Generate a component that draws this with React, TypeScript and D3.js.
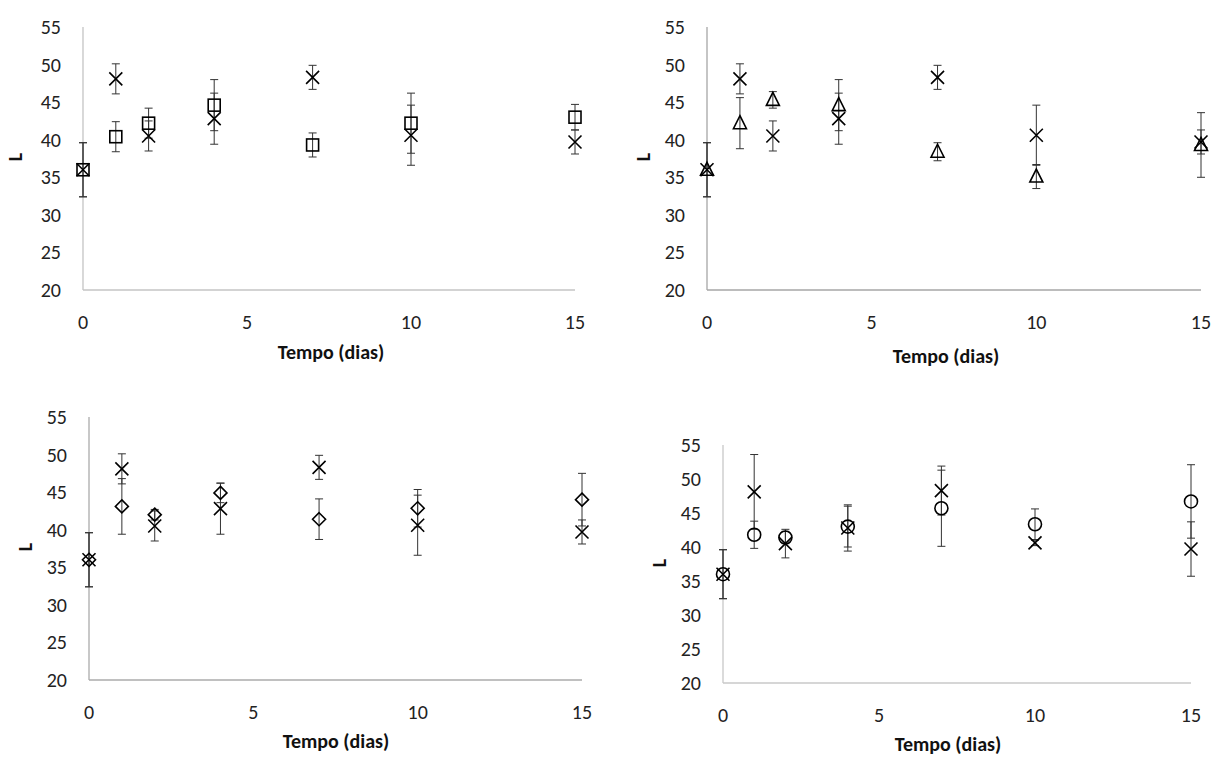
import React from 'react';
import * as d3 from 'd3';

// sampling days
const days = [0, 1, 2, 4, 7, 10, 15];

// control (x marker), same mean in every panel
const controlL = [36.0, 48.1, 40.5, 42.8, 48.3, 40.6, 39.7];
const controlSd = [3.6, 2.0, 2.0, 3.4, 1.6, 4.0, 1.6];
const controlSdD = [3.6, 5.5, 2.1, 3.4, 3.6, 0.4, 4.0];

// treatment series, one per panel
const squareL = [36.0, 40.4, 42.2, 44.6, 39.3, 42.2, 43.0];
const squareSd = [3.6, 2.0, 2.0, 3.4, 1.6, 4.0, 1.7];

const triangleL = [36.0, 42.2, 45.3, 44.6, 38.4, 35.1, 39.3];
const triangleSd = [3.6, 3.4, 1.1, 3.4, 1.2, 1.6, 4.3];

const diamondL = [36.0, 43.1, 42.0, 44.9, 41.4, 42.85, 44.0];
const diamondSd = [3.6, 3.7, 0.7, 1.3, 2.7, 2.5, 3.5];

const circleL = [36.0, 41.8, 41.4, 43.0, 45.7, 43.35, 46.7];
const circleSd = [3.6, 2.0, 0.9, 3.0, 5.6, 2.25, 5.4];

const yTicks = [20, 25, 30, 35, 40, 45, 50, 55];
const xTicks = [0, 5, 10, 15];

const FONT = 'Carlito, Calibri, Lato, sans-serif';

type Shape = 'square' | 'triangle' | 'diamond' | 'circle' | 'x';

const Marker = ({ shape, cx, cy }: { shape: Shape; cx: number; cy: number }) => {
  const st = { fill: 'none', stroke: '#000', strokeWidth: 1.6 };
  if (shape === 'x') {
    const s = 6.5;
    return (
      <path d={`M${cx - s},${cy - s}L${cx + s},${cy + s}M${cx - s},${cy + s}L${cx + s},${cy - s}`} {...st} />
    );
  }
  if (shape === 'square') return <rect x={cx - 6} y={cy - 6} width={12} height={12} {...st} />;
  if (shape === 'circle') return <ellipse cx={cx} cy={cy} rx={6.5} ry={6.5} {...st} />;
  if (shape === 'diamond') {
    const s = 6.5;
    return <path d={`M${cx},${cy - s}L${cx + s},${cy}L${cx},${cy + s}L${cx - s},${cy}Z`} {...st} />;
  }
  // triangle
  return <path d={`M${cx},${cy - 7.5}L${cx + 6.5},${cy + 5.5}L${cx - 6.5},${cy + 5.5}Z`} {...st} />;
};

const Panel = ({ p }: { p: any }) => {
  const x = d3.scaleLinear().domain([0, 15]).range([p.x0, p.x1]);
  const y = d3.scaleLinear().domain([20, 55]).range([p.yBot, p.yTop]);

  const series = [
    { shape: p.shape as Shape, vals: p.vals, sd: p.sd },
    { shape: 'x' as Shape, vals: controlL, sd: p.ctrlSd },
  ];

  return (
    <g>
      {/* axes */}
      <line x1={x(0)} x2={x(0)} y1={y(55)} y2={y(20)} stroke={p.axis} strokeWidth={1.3} />
      <line x1={x(0)} x2={x(15)} y1={y(20)} y2={y(20)} stroke={p.axis} strokeWidth={1.3} />

      {yTicks.map((t) => (
        <text key={'y' + t} x={x(0) - 22} y={y(t)} textAnchor="end" dominantBaseline="central"
          fontSize={20} fill="#222" fontFamily={FONT}>{t}</text>
      ))}
      {xTicks.map((t) => (
        <text key={'x' + t} x={x(t)} y={y(20) + 32} textAnchor="middle" dominantBaseline="central"
          fontSize={20} fill="#222" fontFamily={FONT}>{t}</text>
      ))}

      <text x={p.titleX} y={p.titleY} textAnchor="middle" dominantBaseline="central"
        fontSize={20} fontWeight="bold" fill="#111" fontFamily={FONT}>Tempo (dias)</text>
      <text transform={`translate(${p.lx},${p.ly}) rotate(-90)`} textAnchor="middle" dominantBaseline="central"
        fontSize={20} fontWeight="bold" fill="#111" fontFamily={FONT}>L</text>

      {/* error bars */}
      {series.map((s, si) =>
        days.map((d, i) => {
          const cx = x(d);
          const top = y(s.vals[i] + s.sd[i]);
          const bot = y(s.vals[i] - s.sd[i]);
          return (
            <g key={`e${si}-${i}`} stroke="#333" strokeWidth={1}>
              <line x1={cx} x2={cx} y1={top} y2={bot} />
              <line x1={cx - 4} x2={cx + 4} y1={top} y2={top} />
              <line x1={cx - 4} x2={cx + 4} y1={bot} y2={bot} />
            </g>
          );
        })
      )}

      {/* markers */}
      {series.map((s, si) =>
        days.map((d, i) => <Marker key={`m${si}-${i}`} shape={s.shape} cx={x(d)} cy={y(s.vals[i])} />)
      )}
    </g>
  );
};

const panels = [
  { x0: 83, x1: 575, yTop: 27, yBot: 290, lx: 15, ly: 157, titleX: 331, titleY: 352, axis: '#c4c4c4',
    shape: 'square', vals: squareL, sd: squareSd, ctrlSd: controlSd },
  { x0: 707, x1: 1201, yTop: 27, yBot: 290, lx: 643, ly: 157, titleX: 946, titleY: 356, axis: '#a6a6a6',
    shape: 'triangle', vals: triangleL, sd: triangleSd, ctrlSd: controlSd },
  { x0: 89, x1: 582, yTop: 417, yBot: 680, lx: 25, ly: 547, titleX: 336, titleY: 741, axis: '#ababab',
    shape: 'diamond', vals: diamondL, sd: diamondSd, ctrlSd: controlSd },
  { x0: 723, x1: 1191, yTop: 445, yBot: 683, lx: 659, ly: 563, titleX: 948, titleY: 744, axis: '#c8c8c8',
    shape: 'circle', vals: circleL, sd: circleSd, ctrlSd: controlSdD },
];

export default function App() {
  return (
    <svg width={1216} height={758} style={{ position: 'absolute', left: 0, top: 0, background: '#fff' }}>
      <rect width={1216} height={758} fill="#fff" />
      {panels.map((p, i) => <Panel key={i} p={p} />)}
    </svg>
  );
}
